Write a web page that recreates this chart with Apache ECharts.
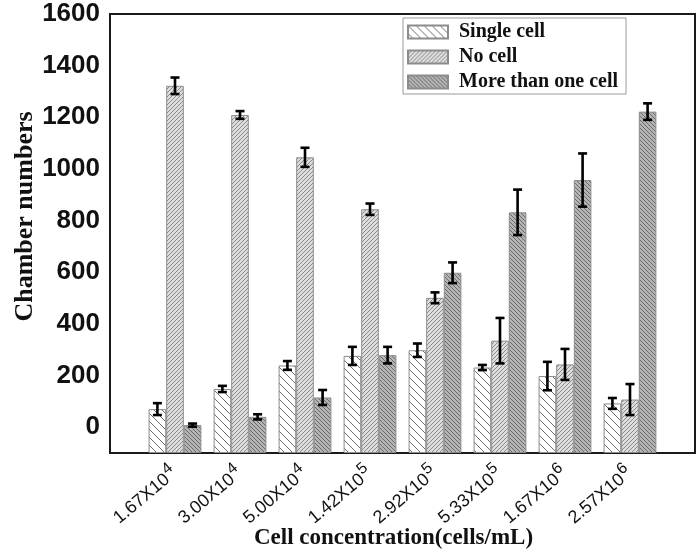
<!DOCTYPE html>
<html>
<head>
<meta charset="utf-8">
<script src="https://cdn.jsdelivr.net/npm/echarts@6/dist/echarts.min.js"></script>
<style>html,body{margin:0;padding:0;background:#fff}#c{width:700px;height:554px}</style>
</head>
<body>
<div id="c"></div>
<script>
// ---- data ----
var catBase = ['1.67', '3.00', '5.00', '1.42', '2.92', '5.33', '1.67', '2.57'];
var catExp = ['4', '4', '4', '5', '5', '5', '6', '6'];
var seriesNames = ['Single cell', 'No cell', 'More than one cell'];
var singleCell = [70, 148, 239, 276, 298, 231, 198, 92];
var singleErr = [23, 12, 17, 35, 26, 10, 55, 21];
var noCell = [1322, 1209, 1045, 844, 501, 335, 243, 107];
var noCellErr = [32, 15, 37, 22, 21, 88, 60, 60];
var moreCell = [8, 40, 115, 279, 598, 832, 957, 1222];
var moreErr = [6, 10, 29, 32, 40, 88, 103, 32];
var yTicks = [0, 200, 400, 600, 800, 1000, 1200, 1400, 1600];

// padded category list (empty slot on both sides)
var cats = [''].concat(catBase.map(function (b, i) { return b + '|' + catExp[i]; })).concat(['']);
function pad(arr) { return [null].concat(arr).concat([null]); }

function makePattern(bg, line, s, dir, lw) {
  var c = document.createElement('canvas');
  c.width = s; c.height = s;
  var ctx = c.getContext('2d');
  ctx.fillStyle = bg; ctx.fillRect(0, 0, s, s);
  ctx.strokeStyle = line; ctx.lineWidth = lw;
  for (var k = -1; k <= 1; k++) {
    ctx.beginPath();
    if (dir === 'back') { ctx.moveTo(k * s, 0); ctx.lineTo(k * s + s, s); }
    else { ctx.moveTo(k * s, s); ctx.lineTo(k * s + s, 0); }
    ctx.stroke();
  }
  return { image: c, repeat: 'repeat' };
}

var fills = [
  makePattern('#ffffff', '#6e6e6e', 8, 'back', 1),
  makePattern('#dedede', '#8a8a8a', 4, 'fwd', 1),
  makePattern('#b4b4b4', '#6a6a6a', 4, 'back', 1)
];

var BW = 17.6;
var values = [singleCell, noCell, moreCell];
var errs = [singleErr, noCellErr, moreErr];

var series = [];
values.forEach(function (v, si) {
  series.push({
    name: seriesNames[si],
    type: 'bar',
    data: pad(v),
    barWidth: BW,
    barGap: '0%',
    itemStyle: { color: fills[si], borderColor: '#8c8c8c', borderWidth: 1 },
    z: 2
  });
});
values.forEach(function (v, si) {
  var d = v.map(function (val, i) { return [i + 1, val, errs[si][i]]; });
  series.push({
    type: 'custom',
    silent: true,
    z: 5,
    encode: { x: 0, y: 1 },
    data: d,
    renderItem: function (params, api) {
      var idx = api.value(0), val = api.value(1), e = api.value(2);
      var off = (si - 1) * BW;
      var top = api.coord([idx, val + e]);
      var bot = api.coord([idx, val - e]);
      var x = top[0] + off;
      var hw = 4.5;
      var st = { stroke: '#000', lineWidth: 2.6 };
      return {
        type: 'group',
        children: [
          { type: 'line', shape: { x1: x, y1: top[1], x2: x, y2: bot[1] }, style: st },
          { type: 'line', shape: { x1: x - hw, y1: top[1], x2: x + hw, y2: top[1] }, style: st },
          { type: 'line', shape: { x1: x - hw, y1: bot[1], x2: x + hw, y2: bot[1] }, style: st }
        ]
      };
    }
  });
});

var chart = echarts.init(document.getElementById('c'));
chart.setOption({
  animation: false,
  backgroundColor: '#fff',
  grid: { left: 110, right: 5, top: 14, bottom: 101, show: true, borderColor: '#1a1a1a', borderWidth: 2, containLabel: false, outerBoundsMode: 'none' },
  legend: {
    orient: 'vertical',
    left: 403, top: 18,
    data: seriesNames,
    itemWidth: 40, itemHeight: 13,
    itemGap: 5,
    icon: 'rect',
    padding: [4, 8, 2, 4],
    borderColor: '#9a9a9a', borderWidth: 1,
    textStyle: { fontFamily: 'Liberation Serif', fontWeight: 'bold', fontSize: 20, color: '#111', lineHeight: 20, padding: [0, 0, 0, 6] }
  },
  xAxis: {
    type: 'category',
    data: cats,
    boundaryGap: false,
    axisLine: { show: true, onZero: false, lineStyle: { color: '#1a1a1a', width: 2 } },
    axisTick: { show: false },
    axisLabel: {
      interval: 0,
      rotate: 40,
      margin: 18,
      formatter: function (v) {
        if (!v) return '';
        var p = v.split('|');
        return '{b|' + p[0] + 'X10}{s|' + p[1] + '}';
      },
      rich: {
        b: { fontFamily: 'Liberation Sans', fontSize: 18, color: '#111' },
        s: { fontFamily: 'Liberation Sans', fontSize: 16, color: '#111', padding: [0, 0, 13, 1] }
      }
    },
    name: 'Cell concentration(cells/mL)',
    nameLocation: 'middle',
    nameGap: 74,
    nameMoveOverlap: false,
    nameTextStyle: { fontFamily: 'Liberation Serif', fontWeight: 'bold', fontSize: 23, color: '#111', padding: [0, 18, 0, 0] }
  },
  yAxis: {
    type: 'value',
    min: -100, max: 1600, interval: 100,
    startValue: -100,
    splitLine: { show: false },
    axisTick: { show: false },
    axisLine: { show: true, lineStyle: { color: '#1a1a1a', width: 2 } },
    axisLabel: {
      margin: 10,
      fontFamily: 'Liberation Sans', fontWeight: 'bold', fontSize: 26, color: '#111',
      formatter: function (v) { return yTicks.indexOf(v) >= 0 ? String(v) : ''; }
    },
    name: 'Chamber numbers',
    nameLocation: 'middle',
    nameGap: 72,
    nameMoveOverlap: false,
    nameTextStyle: { fontFamily: 'Liberation Serif', fontWeight: 'bold', fontSize: 26, color: '#111', padding: [0, 0, 0, 34] }
  },
  series: series
});
</script>
</body>
</html>
